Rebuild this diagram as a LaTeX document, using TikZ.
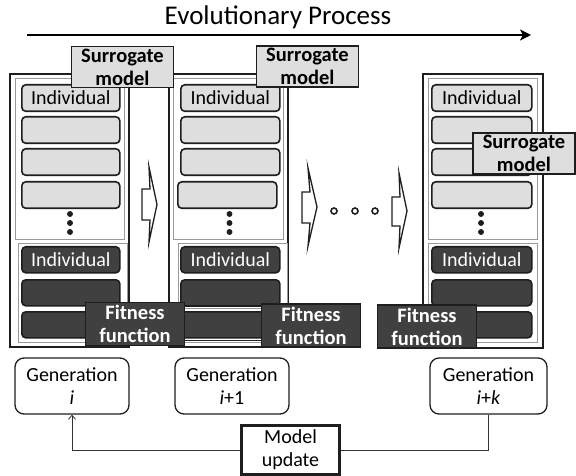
\documentclass[tikz,border=0pt]{standalone}
\usepackage{fontspec}
\setmainfont{Carlito}
\usetikzlibrary{arrows.meta}

\definecolor{lite}{HTML}{DEDEDE}
\definecolor{dark}{HTML}{404040}
\definecolor{edge}{HTML}{1E1E1E}
\definecolor{subedge}{HTML}{9A9A9A}

\tikzset{
  basefont/.style={font=\fontsize{20bp}{23bp}\selectfont},
  boldfont/.style={font=\fontsize{20.5bp}{23bp}\selectfont\bfseries},
  popframe/.style={draw=edge, line width=1.7bp, fill=white},
  subframe/.style={draw=subedge, line width=0.8bp},
  litebox/.style={draw=edge, line width=1.6bp, rounded corners=4bp, fill=lite,
    minimum height=26.5bp, inner sep=0pt, anchor=north west, basefont},
  darkbox/.style={draw=edge, line width=1.6bp, rounded corners=4bp, fill=dark,
    minimum height=26bp, inner sep=0pt, anchor=north west, text=white, basefont},
  surrbox/.style={draw=edge, line width=1.6bp, fill=lite, inner sep=0pt,
    minimum width=102bp, minimum height=41bp, align=center, boldfont},
  fitbox/.style={draw=edge, line width=1.6bp, fill=dark, text=white, inner sep=0pt,
    minimum width=99bp, minimum height=43bp, align=center, boldfont},
  genbox/.style={draw=edge, line width=1.3bp, rounded corners=9bp, fill=white,
    inner sep=0pt, minimum height=56bp, align=center, basefont},
  updbox/.style={draw=edge, line width=2.6bp, fill=white, inner sep=0pt,
    minimum width=98bp, minimum height=49bp, align=center, basefont},
  blockarrow/.style={draw=edge, line width=1.3bp, fill=white, miter limit=20},
  dotmark/.style={fill=edge, draw=edge, line width=0.6bp},
  ring/.style={draw=edge, line width=1.6bp},
  feedback/.style={draw=black!80, line width=0.8bp}
}

\begin{document}
\begin{tikzpicture}[x=1bp,y=-1bp]
\useasboundingbox (0,0) rectangle (576,476);

% timeline
\node[font=\fontsize{27bp}{30bp}\selectfont] (title) at (278,17) {Evolutionary Process};
\coordinate (tstart) at (27,35);
\coordinate (tend) at (531,35);
\draw[line width=1.8bp, -{Stealth[length=11bp,width=11bp,inset=3bp]}] (tstart) -- (tend);

% population frames
\draw[popframe] (10,74) rectangle (129,347);
\draw[popframe] (169,74) rectangle (288,347);
\draw[popframe] (423,74) rectangle (543,348);

% upper (surrogate-evaluated) and lower (fitness-evaluated) parts
\draw[subframe] (15,78) rectangle (124,239);
\draw[subframe] (18,243) rectangle (127,342);
\draw[subframe] (173,78) rectangle (283,239);
\draw[subframe] (178,243) rectangle (287,342);
\draw[subframe] (428,78) rectangle (537,239);
\draw[subframe] (428,243) rectangle (537,342);

% individuals, generation i
\node[litebox, minimum width=98bp] (a1) at (21,84) {Individual};
\node[litebox, minimum width=98bp] (a2) at (21,116) {};
\node[litebox, minimum width=98bp] (a3) at (21,148) {};
\node[litebox, minimum width=98bp] (a4) at (21,181) {};
\node[darkbox, minimum width=98bp] (a5) at (21,246) {Individual};
\node[darkbox, minimum width=98bp] (a6) at (21,279) {};
\node[darkbox, minimum width=98bp] (a7) at (21,311) {};

% individuals, generation i+1
\node[litebox, minimum width=99bp] (b1) at (180,84) {Individual};
\node[litebox, minimum width=99bp] (b2) at (180,116) {};
\node[litebox, minimum width=99bp] (b3) at (180,148) {};
\node[litebox, minimum width=99bp] (b4) at (177,181) {};
\node[darkbox, minimum width=99bp] (b5) at (180,246) {Individual};
\node[darkbox, minimum width=99bp] (b6) at (180,279) {};
\draw[draw=edge, line width=1bp, fill=white] (178,306) rectangle (287,340);
\draw[subframe] (180,308.5) rectangle (285,337.5);
\node[darkbox, minimum width=99bp] (b7) at (180,311) {};

% individuals, generation i+k
\node[litebox, minimum width=100bp] (c1) at (431,84) {Individual};
\node[litebox, minimum width=100bp] (c2) at (431,116) {};
\node[litebox, minimum width=100bp] (c3) at (431,148) {};
\node[litebox, minimum width=100bp] (c4) at (431,181) {};
\node[darkbox, minimum width=100bp] (c5) at (431,246) {Individual};
\node[darkbox, minimum width=100bp] (c6) at (431,279) {};
\node[darkbox, minimum width=100bp] (c7) at (431,311) {};

% vertical ellipses
\foreach \x in {70, 229.5, 481} {
  \foreach \y in {214, 223, 232} {
    \fill[dotmark] (\x,\y) circle (2.6);
  }
}

% block arrows between generations
\draw[blockarrow] (142,189) -- (150,189) -- (149,167) -- (157,204.5) -- (149,242) -- (150,220) -- (142,220) -- cycle;
\draw[blockarrow] (302,192) -- (310,192) -- (308,168) -- (317,207) -- (308,246) -- (310,223) -- (302,223) -- cycle;
\draw[blockarrow] (392,197) -- (400,197) -- (399,173) -- (407,211) -- (399,248) -- (400,226) -- (392,226) -- cycle;

% skipped generations
\draw[ring] (334,211) circle (3);
\draw[ring] (355,211) circle (3);
\draw[ring] (375,211) circle (3);

% surrogate models
\node[surrbox] (s1) at (122.5,67) {Surrogate\\model};
\node[surrbox] (s2) at (307.5,66.5) {Surrogate\\model};
\node[surrbox] (s3) at (524,153.5) {Surrogate\\model};

% fitness functions
\node[fitbox] (f1) at (135,324) {Fitness\\function};
\node[fitbox] (f2) at (311,325.5) {Fitness\\function};
\node[fitbox] (f3) at (427,326.5) {Fitness\\function};

% generation labels
\node[genbox, minimum width=114bp] (g1) at (72,386) {Generation\\\textit{i}};
\node[genbox, minimum width=114bp] (g2) at (232,386) {Generation\\\textit{i}+1};
\node[genbox, minimum width=117bp] (g3) at (488.5,386) {Generation\\\textit{i}+\textit{k}};

% model update loop
\node[updbox] (upd) at (290.5,450) {Model\\update};
\draw[feedback, -{Straight Barb[length=4bp,width=7bp]}] (upd.west) -| (g1.south);
\draw[feedback] (upd.east) -| (g3.south);
\end{tikzpicture}
\end{document}
